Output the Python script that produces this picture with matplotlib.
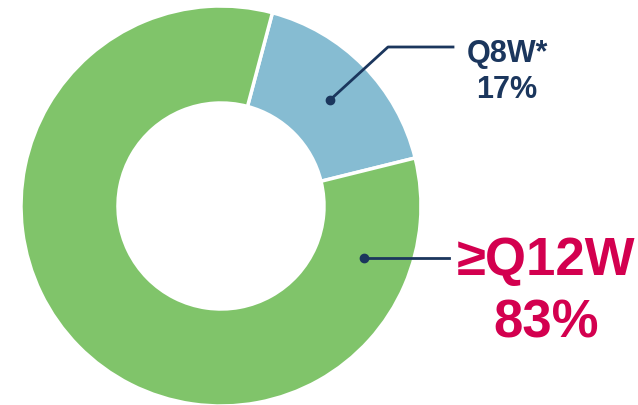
import matplotlib.pyplot as plt

labels = ['Q8W*', '≥Q12W']
shares = [17, 83]
colors = ['#86BCD2', '#80C46A']
text_colors = ['#1B365D', '#D3004F']

navy = '#1B365D'
fam = ['Liberation Sans', 'DejaVu Sans']

fig = plt.figure(figsize=(6.38, 4.06), dpi=100)
ax = fig.add_axes([0, 0, 1, 1])
ax.set_xlim(0, 638)
ax.set_ylim(0, 406)
ax.set_aspect('equal')
ax.axis('off')

ax.pie(shares, colors=colors, startangle=75.1, counterclock=False,
       center=(221, 199), radius=200,
       wedgeprops=dict(width=97, edgecolor='white', linewidth=2.5))
ax.set_xlim(0, 638)
ax.set_ylim(0, 406)

# leader for Q8W*
ax.plot([330, 388, 453], [305, 358, 358], color=navy, lw=2)
ax.plot(330, 305, 'o', color=navy, ms=6)
ax.text(507, 344, labels[0], ha='center', va='baseline', fontsize=22,
        fontweight='bold', color=text_colors[0], family=fam)
ax.text(507, 308, f'{shares[0]}%', ha='center', va='baseline', fontsize=22,
        fontweight='bold', color=text_colors[0], family=fam)

# leader for >=Q12W
ax.plot([364, 449], [147, 147], color=navy, lw=2)
ax.plot(364, 147, 'o', color=navy, ms=6)
ax.text(546, 131, labels[1], ha='center', va='baseline', fontsize=38,
        fontweight='bold', color=text_colors[1], family=fam)
ax.text(546, 68, f'{shares[1]}%', ha='center', va='baseline', fontsize=38,
        fontweight='bold', color=text_colors[1], family=fam)

fig.savefig('out.png', dpi=100)
